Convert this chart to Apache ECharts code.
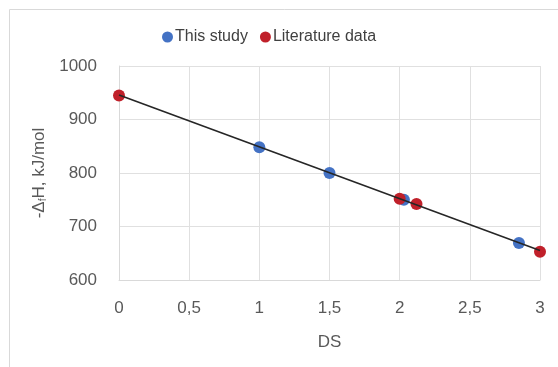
<!DOCTYPE html>
<html><head><meta charset="utf-8">
<script src="https://cdn.jsdelivr.net/npm/echarts@6/dist/echarts.min.js"></script>
<style>html,body{margin:0;padding:0;background:#fff}#c{width:558px;height:367px}</style>
</head><body><div id="c"></div>
<script>
const thisStudyX = [1, 1.5, 2.03, 2.85];
const thisStudyY = [848, 800, 750, 669];
const literatureX = [0, 2.0, 2.12, 3.0];
const literatureY = [945, 752, 742, 653];
const fitX = [0, 3];
const fitY = [946, 655];
const xTicks = ['0', '0,5', '1', '1,5', '2', '2,5', '3'];
const yTicks = ['600', '700', '800', '900', '1000'];

const zip = (a, b) => a.map((v, i) => [v, b[i]]);
const chart = echarts.init(document.getElementById('c'), null, {renderer: 'canvas'});
const font = 'Liberation Sans, Arial, sans-serif';
chart.setOption({
  animation: false,
  graphic: [{type: 'rect', left: 7, top: 7, shape: {width: 560, height: 370}, style: {fill: 'none', stroke: '#d9d9d9', lineWidth: 1}, silent: true}],
  legend: {
    top: 24, left: 157, itemWidth: 11, itemHeight: 11, itemGap: 12,
    textStyle: {fontFamily: font, fontSize: 16, color: '#404040', padding: [0, 0, 0, -3]},
    data: [{name: 'This study', icon: 'circle'}, {name: 'Literature data', icon: 'circle'}]
  },
  grid: {left: 119, right: 18, top: 66, bottom: 87},
  xAxis: {
    type: 'value', min: 0, max: 3, interval: 0.5,
    name: 'DS', nameLocation: 'middle', nameGap: 54,
    nameTextStyle: {fontFamily: font, fontSize: 17, color: '#595959'},
    axisLine: {show: true, lineStyle: {color: '#d9d9d9'}},
    axisTick: {show: false},
    axisLabel: {fontFamily: font, fontSize: 17, color: '#595959', margin: 20,
      formatter: v => xTicks[Math.round(v * 2)]},
    splitLine: {show: true, lineStyle: {color: '#e0e0e0'}}
  },
  yAxis: {
    type: 'value', min: Number(yTicks[0]), max: Number(yTicks[yTicks.length - 1]), interval: 100,
    name: '{a|-Δ}{s|f}{a|H, kJ/mol}', nameLocation: 'middle', nameGap: 66,
    nameTextStyle: {rich: {
      a: {fontFamily: font, fontSize: 17, color: '#595959'},
      s: {fontFamily: font, fontSize: 10, color: '#595959', verticalAlign: 'bottom', padding: [8, 0, 0, 0]}
    }},
    axisLine: {show: true, lineStyle: {color: '#d9d9d9'}},
    axisTick: {show: false},
    axisLabel: {fontFamily: font, fontSize: 17, color: '#595959', margin: 22,
      formatter: v => yTicks[Math.round((v - 600) / 100)]},
    splitLine: {show: true, lineStyle: {color: '#e0e0e0'}}
  },
  series: [
    {name: 'This study', type: 'scatter', data: zip(thisStudyX, thisStudyY), symbolSize: 12,
      itemStyle: {color: '#4472C4', opacity: 1}, z: 2},
    {name: 'Literature data', type: 'scatter', data: zip(literatureX, literatureY), symbolSize: 12,
      itemStyle: {color: '#C0202A', opacity: 1}, z: 3},
    {name: 'fit', type: 'line', data: zip(fitX, fitY), symbol: 'none',
      lineStyle: {color: '#262626', width: 1.6}, z: 4}
  ]
});
</script></body></html>
